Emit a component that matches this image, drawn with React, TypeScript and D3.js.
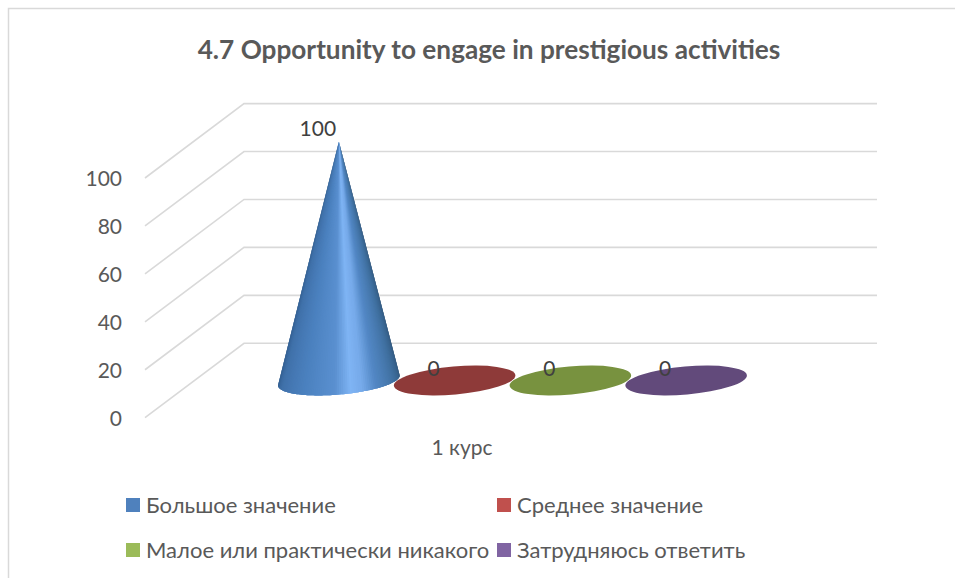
import * as d3 from 'd3';

const title = '4.7 Opportunity to engage in prestigious activities';
const category = '1 курс';
const seriesNames = ['Большое значение', 'Среднее значение', 'Малое или практически никакого', 'Затрудняюсь ответить'];
const seriesValues = [100, 0, 0, 0];
const legendColors = ['#4f81bd', '#c0504d', '#9bbb59', '#8064a2'];
const flatColors = ['#4f81bd', '#8e3a39', '#78923f', '#624a7b'];
const yTicks = [0, 20, 40, 60, 80, 100];

const width = 955;
const height = 578;
const font = 'Lato, "Open Sans", sans-serif';
const textColor = '#595959';

// floor of the 3d box
const frontLeft = 145;
const frontRight = 778;
const depthX = 99;
const depthY = -74.4;

const y = d3.scaleLinear().domain([0, 100]).range([417.7, 178]);
const x = d3.scaleBand().domain(seriesNames).range([281, 744]);

// bars stand half way back in the box
const barX = (name: string) => x(name)! + x.bandwidth() / 2;
const barY = (v: number) => y(v) + depthY / 2;

const rx = 61;
const ry = 14;
const tilt = (-5 * Math.PI) / 180;

const ellipsePoint = (cx: number, cy: number, t: number): [number, number] => [
  cx + rx * Math.cos(t) * Math.cos(tilt) - ry * Math.sin(t) * Math.sin(tilt),
  cy + rx * Math.cos(t) * Math.sin(tilt) + ry * Math.sin(t) * Math.cos(tilt),
];

// shading across the cone, left to right
const coneShade = d3
  .scaleLinear<string>()
  .domain([0, 0.12, 0.3, 0.48, 0.56, 0.62, 0.7, 0.85, 1])
  .range(['#2f5a8a', '#3f70a8', '#4a7fbd', '#5a90d0', '#7fb4f4', '#76aaea', '#5287c4', '#3f6f9f', '#2f5478']);

function coneSlices(cx: number, cy: number, ax: number, ay: number) {
  // tangent lines from the apex to the tilted base
  const dx = ax - cx;
  const dy = ay - cy;
  const ex = (dx * Math.cos(tilt) + dy * Math.sin(tilt)) / rx;
  const ey = (-dx * Math.sin(tilt) + dy * Math.cos(tilt)) / ry;
  const phi = Math.atan2(ey, ex);
  const off = Math.acos(1 / Math.hypot(ex, ey));
  const t0 = phi + off;
  const t1 = phi - off + 2 * Math.PI;
  const n = 90;
  return d3.range(n).map((i) => {
    // each slice runs under the next one so no seams show
    const pts: [number, number][] = d3
      .range(i, Math.min(i + 3, n) + 0.5)
      .map((k) => ellipsePoint(cx, cy, t0 + ((t1 - t0) * k) / n));
    return {
      d: d3.line()([[ax, ay], ...pts]) + 'Z',
      color: coneShade(1 - (i + 0.5) / n),
    };
  });
}

const legendPos = [
  { x: 126, y: 505 },
  { x: 497, y: 505 },
  { x: 126, y: 550 },
  { x: 497, y: 550 },
];

export default function App() {
  return (
    <svg
      width={width}
      height={height}
      viewBox={`0 0 ${width} ${height}`}
      style={{ position: 'absolute', left: 0, top: 0, background: '#fff', fontFamily: font }}
    >
      <path d={`M8.5 ${height}V8.5H${width}`} fill="none" stroke="#d9d9d9" strokeWidth={1.5} />

      <text x={489} y={59} textAnchor="middle" fontSize={26.2} fontWeight={700} fill={textColor}>
        {title}
      </text>

      {yTicks.map((t) => (
        <g key={t}>
          <path
            d={`M${frontLeft} ${y(t)}L${frontLeft + depthX} ${y(t) + depthY}H${frontRight + depthX}`}
            fill="none"
            stroke="#d9d9d9"
            strokeWidth={1.6}
          />
          <text x={122} y={y(t) + 8} textAnchor="end" fontSize={21} fill={textColor}>
            {t}
          </text>
        </g>
      ))}

      {seriesNames.map((name, i) => {
        const cx = barX(name);
        const cy = barY(0);
        const top = barY(seriesValues[i]) + 1;
        if (seriesValues[i] === 0) {
          return (
            <ellipse
              key={name}
              cx={cx}
              cy={cy}
              rx={rx}
              ry={ry}
              transform={`rotate(${(tilt * 180) / Math.PI} ${cx} ${cy})`}
              fill={flatColors[i]}
            />
          );
        }
        return (
          <g key={name}>
            {coneSlices(cx, cy, cx, top).map((s, k) => (
              <path key={k} d={s.d} fill={s.color} />
            ))}
          </g>
        );
      })}

      {seriesNames.map((name, i) => (
        <text
          key={name}
          x={barX(name) - 21}
          y={barY(seriesValues[i]) - 4.5}
          textAnchor="middle"
          fontSize={21}
          fill="#404040"
        >
          {seriesValues[i]}
        </text>
      ))}

      <text x={462} y={455} textAnchor="middle" fontSize={21} fill={textColor}>
        {category}
      </text>

      {seriesNames.map((name, i) => (
        <g key={name}>
          <rect x={legendPos[i].x} y={legendPos[i].y - 7} width={14} height={14} fill={legendColors[i]} />
          <text x={legendPos[i].x + 20} y={legendPos[i].y + 7.5} fontSize={22} fill={textColor}>
            {name}
          </text>
        </g>
      ))}
    </svg>
  );
}
